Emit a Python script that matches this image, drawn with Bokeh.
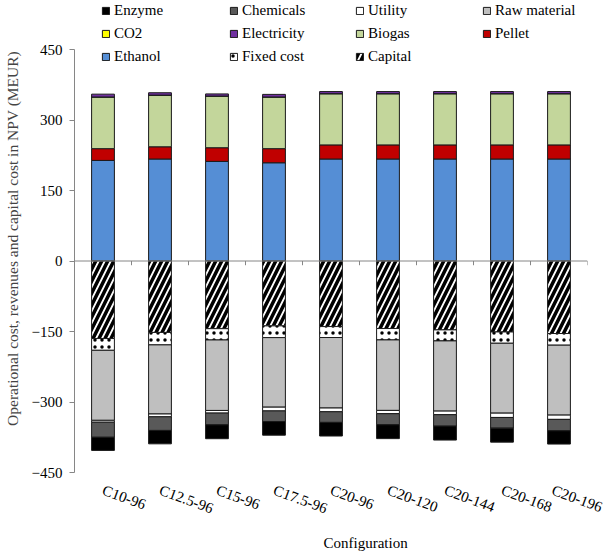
import math
from bokeh.plotting import figure
from bokeh.models import (FactorRange, Range1d, Legend, LegendItem, Span,
                          FixedTicker, ColumnDataSource, Title)
from bokeh.embed import file_html
from bokeh.resources import INLINE

configs = ["C10-96", "C12.5-96", "C15-96", "C17.5-96", "C20-96",
           "C20-120", "C20-144", "C20-168", "C20-196"]

# Revenues (positive, MEUR)
ethanol = [214, 217, 212, 209, 217, 217, 217, 217, 217]
pellet = [25, 26, 29, 30, 30, 30, 30, 30, 30]
biogas = [110, 110, 110, 110, 109, 109, 109, 109, 109]
co2 = [0, 0, 0, 0, 0, 0, 0, 0, 0]
electricity = [6, 5, 4.5, 5.5, 4.5, 4.5, 4.5, 4.5, 4.5]

# Costs (shown negative, MEUR)
capital = [165, 152, 144, 138, 139.5, 143.7, 146.6, 151, 154.3]
fixed_cost = [25, 26.5, 24, 25, 23.3, 24.2, 23.4, 24, 24.8]
raw_material = [149, 147, 150, 148, 150, 150, 149.4, 148.7, 148.8]
utility = [4, 6, 5.6, 8, 8, 7, 7.6, 9.2, 9.1]
chemicals = [32, 29, 25, 22.6, 22.6, 23.5, 24.3, 22.7, 24.3]
enzyme = [28, 28.5, 29.5, 29, 29, 29.5, 29.7, 29.8, 28.2]

y_ticks = [-450, -300, -150, 0, 150, 300, 450]
Y_MIN, Y_MAX = -450, 450

FONT = "Liberation Serif"
AXIS_GRAY = "#868686"
FRAME_W = 513
AXIS_PX = 423          # pixel height of the -450..450 axis span
TOP_PX = 49            # space kept above the 450 tick for the legend
FRAME_H = AXIS_PX + TOP_PX
y_top = Y_MIN + (Y_MAX - Y_MIN) * FRAME_H / AXIS_PX

data = dict(cfg=configs,
            ethanol=ethanol, pellet=pellet, biogas=biogas, co2=co2,
            electricity=electricity,
            capital=[-v for v in capital], fixed=[-v for v in fixed_cost],
            raw=[-v for v in raw_material], utility=[-v for v in utility],
            chemicals=[-v for v in chemicals], enzyme=[-v for v in enzyme])
src = ColumnDataSource(data)

p = figure(x_range=FactorRange(*configs, range_padding=0),
           y_range=Range1d(Y_MIN, y_top),
           frame_width=FRAME_W, frame_height=FRAME_H,
           output_backend="svg", toolbar_location=None,
           min_border_left=68, min_border_right=17,
           min_border_top=0, min_border_bottom=78)
p.outline_line_color = None
p.xgrid.grid_line_color = None
p.ygrid.grid_line_color = None

BW = 0.4
pos_r = p.vbar_stack(["ethanol", "pellet", "biogas", "co2", "electricity"],
                     x="cfg", width=BW, source=src,
                     color=["#558ED5", "#C00000", "#C3D69B", "#FFFF00", "#7030A0"],
                     line_color="#1a1a1a", line_width=1)
neg_r = p.vbar_stack(["capital", "fixed", "raw", "utility", "chemicals", "enzyme"],
                     x="cfg", width=BW, source=src,
                     color=["white", "white", "#BFBFBF", "white", "#595959", "black"],
                     line_color="#1a1a1a", line_width=1)
neg_r[0].glyph.hatch_pattern = "right_diagonal_line"
neg_r[0].glyph.hatch_color = "black"
neg_r[0].glyph.hatch_weight = 3.5
neg_r[0].glyph.hatch_scale = 12
neg_r[1].glyph.hatch_pattern = "dot"
neg_r[1].glyph.hatch_color = "black"
neg_r[1].glyph.hatch_weight = 1.5
neg_r[1].glyph.hatch_scale = 7

# zero line with category-boundary ticks
p.add_layout(Span(location=0, dimension="width", line_color=AXIS_GRAY, line_width=1))
bounds = [(c, -0.5) for c in configs] + [(configs[-1], 0.5)]
p.segment(x0=bounds, x1=bounds, y0=[0] * len(bounds), y1=[-9] * len(bounds),
          line_color=AXIS_GRAY, line_width=1)

# axes
p.yaxis.ticker = FixedTicker(ticks=y_ticks)
p.yaxis.bounds = (Y_MIN, Y_MAX)
p.yaxis.axis_line_color = AXIS_GRAY
p.yaxis.major_tick_line_color = AXIS_GRAY
p.yaxis.major_tick_out = 5
p.yaxis.major_tick_in = 0
p.yaxis.minor_tick_line_color = None
p.yaxis.major_label_standoff = 7
p.yaxis.major_label_text_font = FONT
p.yaxis.major_label_text_font_size = "15px"
p.yaxis.major_label_text_color = "black"
p.yaxis.axis_label = "Operational cost, revenues and capital cost in NPV  (MEUR)"
p.yaxis.axis_label_text_font = FONT
p.yaxis.axis_label_text_font_size = "15.5px"
p.yaxis.axis_label_text_font_style = "normal"
p.yaxis.axis_label_standoff = 8

p.xaxis.axis_line_color = None
p.xaxis.major_tick_line_color = None
p.xaxis.major_label_orientation = -0.35
p.xaxis.major_label_standoff = 11
p.xaxis.major_label_text_font = FONT
p.xaxis.major_label_text_font_size = "15px"
p.xaxis.major_label_text_color = "black"

# x-axis title, placed slightly right of centre as in the original
xtitle = Title(text="Configuration", align="left", offset=249,
               text_font=FONT, text_font_size="15px", text_font_style="normal",
               text_color="black", standoff=12)
p.add_layout(xtitle, "below")

# legend: four columns in the space above the 450 tick
names = {"Enzyme": neg_r[5], "Chemicals": neg_r[4], "Utility": neg_r[3],
         "Raw material": neg_r[2], "CO2": pos_r[3], "Electricity": pos_r[4],
         "Biogas": pos_r[2], "Pellet": pos_r[1], "Ethanol": pos_r[0],
         "Fixed cost": neg_r[1], "Capital": neg_r[0]}
columns = [["Enzyme", "CO2", "Ethanol"],
           ["Chemicals", "Electricity", "Fixed cost"],
           ["Utility", "Biogas", "Capital"],
           ["Raw material", "Pellet"]]
col_x = [27, 155, 281, 408]
ROW_H, ROW_GAP = 17, 6
full_h = 3 * ROW_H + 2 * ROW_GAP
legend_bottom_from_frame_bottom = AXIS_PX - 16
for cx, col in zip(col_x, columns):
    items = [LegendItem(label=n, renderers=[names[n]]) for n in col]
    col_h = len(col) * ROW_H + (len(col) - 1) * ROW_GAP
    lg = Legend(items=items,
                location=(cx, legend_bottom_from_frame_bottom + (full_h - col_h)),
                orientation="vertical", border_line_color=None,
                background_fill_alpha=0, padding=0, margin=0, spacing=ROW_GAP,
                label_height=ROW_H, glyph_width=9, glyph_height=9, label_standoff=4,
                label_text_font=FONT, label_text_font_size="15px",
                label_text_color="black")
    p.add_layout(lg, "center")

open("out.html", "w").write(file_html(p, INLINE))
